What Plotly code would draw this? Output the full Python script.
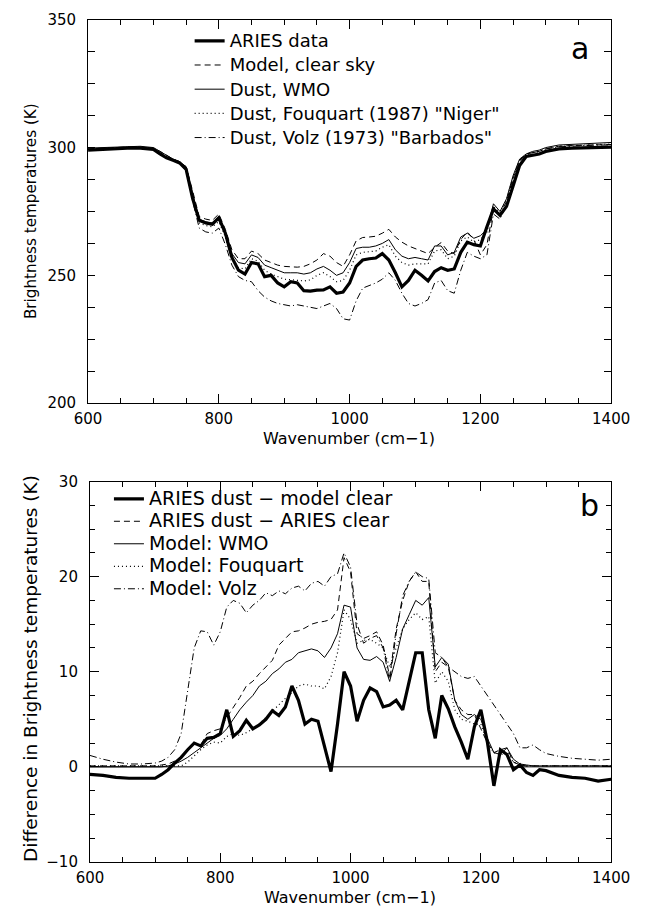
import plotly.graph_objects as go

# ---------------- data ----------------
wavenumber = [600, 620, 640, 660, 680] + list(range(700, 1301, 10)) + [1320, 1340, 1360, 1380, 1400]

# Panel a: brightness temperatures (K)
aries_data = [299.0, 299.3, 299.6, 299.8, 299.8,
              299.3, 297.5, 296.0, 295.0, 294.0, 291.5, 280.0, 271.5, 270.5, 270.0,
              272.5, 266.5, 257.0, 252.0, 250.5, 255.0, 254.5, 249.5, 250.0, 247.0,
              245.5, 247.5, 247.0, 244.0, 243.8, 244.2, 244.3, 245.5, 243.0, 243.5,
              247.0, 253.5, 256.0, 256.5, 256.8, 258.5, 256.0, 251.0, 245.5, 248.0,
              252.0, 250.0, 247.8, 251.5, 253.0, 252.0, 252.5, 259.0, 263.0, 262.0,
              261.5, 269.0, 276.0, 273.5, 277.0, 285.0, 293.0, 296.5, 297.0, 297.5,
              298.5,
              299.5, 299.8, 300.0, 300.0, 300.2]
model_clear = [299.5, 299.8, 300.0, 300.2, 300.2,
               299.8, 298.5, 297.0, 295.5, 294.5, 292.5, 283.0, 273.0, 272.0, 271.5,
               274.0, 268.0, 260.0, 256.5, 256.5, 259.5, 258.5, 256.0, 255.0, 254.0,
               253.5, 253.3, 253.2, 253.5, 254.5, 256.0, 258.5, 257.5, 255.0, 253.5,
               258.0, 263.5, 264.8, 265.0, 265.3, 266.5, 268.0, 265.0, 263.0, 261.5,
               260.5, 259.5, 258.5, 261.0, 262.8, 259.5, 258.5, 264.0, 267.0, 264.0,
               258.0, 262.0, 276.0, 274.0, 279.0, 288.0, 295.0, 297.5, 298.0, 298.5,
               299.5,
               300.5, 300.8, 301.0, 301.0, 301.2]
dust_wmo = [299.8, 300.0, 300.3, 300.5, 300.5,
            300.0, 298.5, 297.0, 295.5, 294.5, 292.5, 282.0, 272.0, 271.0, 270.5,
            273.0, 267.0, 258.5, 255.0, 254.5, 258.0, 257.0, 254.0, 253.0, 252.0,
            251.0, 251.0, 251.0, 250.5, 251.0, 252.5, 253.5, 252.0, 250.0, 251.0,
            255.0, 260.5, 261.0, 261.0, 261.5, 262.5, 264.0, 260.0, 257.5, 256.5,
            257.0, 256.5, 256.0, 261.5, 261.5, 258.0, 259.0, 265.0, 266.5, 264.5,
            265.5, 268.0, 278.0, 275.0, 280.0, 289.0, 295.5, 297.5, 298.5, 299.0,
            300.0,
            301.0, 301.3, 301.5, 301.8, 302.0]
dust_fouquart = [299.3, 299.6, 299.9, 300.1, 300.1,
                 299.6, 297.5, 296.2, 295.2, 294.2, 291.8, 280.5, 270.5, 269.5, 269.0,
                 271.0, 265.0, 256.5, 253.0, 252.5, 256.5, 255.5, 252.0, 250.5, 249.5,
                 248.5, 248.3, 248.0, 247.8, 248.2, 250.0, 251.0, 249.5, 247.5, 248.0,
                 252.0, 258.0, 259.0, 259.2, 259.5, 261.0, 262.0, 257.5, 255.0, 254.0,
                 254.5, 254.5, 254.5, 259.5, 260.0, 256.5, 257.5, 263.5, 265.0, 263.0,
                 264.0, 267.0, 277.0, 274.5, 279.5, 288.5, 295.0, 297.0, 298.0, 298.5,
                 299.5,
                 300.5, 300.8, 301.0, 301.2, 301.4]
dust_volz = [299.3, 299.6, 299.9, 300.1, 300.1,
             299.6, 298.0, 296.5, 295.0, 293.8, 291.0, 279.0, 268.5, 267.0, 266.5,
             268.5, 262.0, 254.0, 249.5, 248.0, 247.5, 244.0, 241.5, 240.0, 239.0,
             238.5, 238.0, 238.5, 238.0, 237.5, 237.0, 238.0, 239.0, 237.0, 233.0,
             232.5, 240.0, 245.0, 246.0, 247.0, 248.5, 251.0, 248.0, 243.0, 239.0,
             238.0, 239.0, 240.5, 247.0, 248.0, 244.0, 243.0, 252.0, 259.0, 257.5,
             256.5, 258.0, 274.0, 272.0, 277.5, 287.0, 294.5, 297.0, 298.0, 298.5,
             299.5,
             300.3, 300.6, 300.8, 301.0, 301.0]

# Panel b: differences in brightness temperatures (K)
diff_aries_model = [-0.8, -0.9, -1.1, -1.2, -1.2,
                    -1.2, -0.8, -0.3, 0.4, 1.0, 1.8, 2.5, 2.2, 3.0, 3.1,
                    3.5, 6.0, 3.2, 3.8, 4.9, 4.0, 4.4, 5.0, 5.9, 5.4,
                    6.3, 8.5, 7.0, 4.5, 5.0, 4.8, 2.0, -0.5, 4.5, 10.0,
                    8.5, 4.8, 7.0, 8.3, 7.9, 6.3, 6.5, 7.0, 6.0, 9.0,
                    12.0, 12.0, 6.0, 3.0, 7.5, 6.1, 4.2, 2.6, 0.8, 4.2,
                    6.0, 2.6, -2.0, 1.8, 1.3, -0.3, 0.2, -0.6, -0.9, -0.3,
                    -0.4,
                    -0.9, -1.1, -1.2, -1.5, -1.3]
diff_aries_aries = [0.1, 0.1, 0.1, 0.1, 0.1,
                    0.1, 0.2, 0.3, 0.6, 1.0, 1.8, 2.5, 2.3, 3.5, 3.8,
                    4.0, 5.2, 6.2, 7.3, 8.5, 9.0, 9.8, 10.5, 11.2, 12.8,
                    13.5, 14.2, 14.3, 14.6, 15.0, 15.2, 15.3, 15.5, 16.5, 22.0,
                    20.5, 14.0, 13.5, 13.8, 14.2, 12.8, 9.5, 14.5, 17.5, 19.5,
                    20.5, 19.5, 19.5, 10.0, 11.0, 10.5, 7.0, 6.0, 5.5, 5.5,
                    4.0, 2.5, 1.5, 1.8, 2.0, 0.5, 0.2, 0.1, 0.1, 0.1,
                    0.1,
                    0.1, 0.1, 0.1, 0.1, 0.1]
model_wmo = [0.0, 0.0, 0.0, 0.0, 0.0,
             0.0, 0.0, 0.1, 0.3, 0.6, 1.0, 1.5, 2.0, 2.5, 3.0,
             3.3, 4.0, 5.0, 6.0, 6.8, 7.5, 8.5, 9.0, 9.8, 10.3,
             11.0, 11.3, 12.0, 12.2, 12.4, 12.2, 11.5, 12.5, 14.0, 17.0,
             16.8, 12.5, 11.3, 11.2, 11.6, 11.0, 9.0, 11.5, 14.5, 16.0,
             17.5, 17.0, 17.8, 10.5, 11.5, 10.8, 7.0, 5.5, 5.0, 5.5,
             5.0, 3.0, 1.5, 1.3, 2.0, 0.8, 0.3, 0.2, 0.1, 0.1,
             0.1,
             0.1, 0.1, 0.1, 0.1, 0.1]
model_fouquart = [0.1, 0.1, 0.1, 0.1, 0.1,
                  0.1, 0.1, 0.1, 0.1, 0.1, 0.5, 1.2, 1.8, 2.3, 2.6,
                  2.5, 3.2, 3.5, 3.3, 3.6, 4.0, 4.5, 5.2, 5.8, 6.5,
                  7.2, 7.8, 8.5, 8.7, 8.5, 8.5, 8.2, 9.5, 12.0, 16.5,
                  15.5, 13.0, 13.3, 13.4, 13.0, 12.5, 10.5, 12.5, 14.5, 15.5,
                  16.2, 15.5, 15.8, 8.8, 10.0, 9.0, 6.0, 5.0, 4.8, 4.5,
                  4.5, 2.5, 1.5, 1.2, 1.6, 0.5, 0.2, 0.1, 0.1, 0.1,
                  0.1,
                  0.1, 0.1, 0.1, 0.1, 0.1]
model_volz = [1.2, 0.8, 0.5, 0.3, 0.3,
              0.4, 0.6, 1.0, 1.8, 3.5, 8.0, 12.5, 14.3, 14.2, 12.8,
              14.2, 16.8, 17.5, 17.2, 16.2, 17.0, 17.5, 18.3, 18.0, 18.5,
              18.2, 18.8, 19.0, 18.5, 19.3, 19.5, 19.0, 20.0, 20.3, 22.5,
              21.0, 15.0, 13.0, 13.5, 13.8, 12.5, 9.0, 14.0, 18.0, 19.5,
              20.5, 20.0, 19.8, 12.0, 11.5, 10.5, 10.0, 9.5, 9.3, 9.5,
              8.5, 7.5, 6.5, 5.5, 4.5, 3.5, 2.0, 2.0, 2.3, 1.8,
              1.4,
              1.1, 0.9, 0.8, 0.7, 0.8]

x_tickvals = [600, 800, 1000, 1200, 1400]
ya_tickvals = [200, 250, 300, 350]
yb_tickvals = [-10, 0, 10, 20, 30]

labels_a = ["ARIES data", "Model, clear sky", "Dust, WMO",
            'Dust, Fouquart (1987) "Niger"', 'Dust, Volz (1973) "Barbados"']
labels_b = ["ARIES dust \u2212 model clear", "ARIES dust \u2212 ARIES clear",
            "Model: WMO", "Model: Fouquart", "Model: Volz"]

# ---------------- styles ----------------
W, H = 652, 918
FONT = "DejaVu Sans"
styles = [dict(width=3.2, dash="solid"),
          dict(width=1.0, dash="6px,4px"),
          dict(width=1.0, dash="solid"),
          dict(width=1.2, dash="1px,3px"),
          dict(width=1.0, dash="7px,3px,1px,3px")]


def big(text, size):
    return '<span style="font-size:%gpx">%s</span>' % (size, text)


fig = go.Figure()
series_a = [aries_data, model_clear, dust_wmo, dust_fouquart, dust_volz]
series_b = [diff_aries_model, diff_aries_aries, model_wmo, model_fouquart, model_volz]
for s, name, st in zip(series_a, labels_a, styles):
    fig.add_trace(go.Scatter(x=wavenumber, y=s, name=big(name, 18), mode="lines",
                             line=dict(color="black", **st),
                             xaxis="x", yaxis="y", legend="legend"))
for s, name, st in zip(series_b, labels_b, styles):
    fig.add_trace(go.Scatter(x=wavenumber, y=s, name=big(name, 19), mode="lines",
                             line=dict(color="black", **st),
                             xaxis="x2", yaxis="y2", legend="legend2"))


def px_x(v):
    return v / W


def px_y(v):
    return 1 - v / H


axis_common = dict(showline=True, linecolor="black", linewidth=1, mirror="allticks",
                   ticks="inside", tickcolor="black", showgrid=False, zeroline=False,
                   tickfont=dict(family=FONT, size=15, color="black"))

fig.update_layout(
    width=W, height=H,
    margin=dict(l=0, r=0, t=0, b=0),
    paper_bgcolor="white", plot_bgcolor="white",
    font=dict(family=FONT, color="black"),
    xaxis=dict(domain=[px_x(78), px_x(629)], anchor="y", range=[600, 1400],
               tickvals=x_tickvals, ticklen=9, ticklabelstandoff=2,
               minor=dict(dtick=50, tick0=600, ticklen=5, ticks="inside", tickcolor="black"),
               **axis_common),
    yaxis=dict(domain=[px_y(402), px_y(11)], anchor="x", range=[200, 350],
               tickvals=ya_tickvals, ticklen=7, ticklabelstandoff=8,
               minor=dict(dtick=12.5, tick0=200, ticklen=7, ticks="inside", tickcolor="black"),
               **axis_common),
    xaxis2=dict(domain=[px_x(80), px_x(629)], anchor="y2", range=[600, 1400],
                tickvals=x_tickvals, ticklen=9, ticklabelstandoff=2,
                minor=dict(dtick=50, tick0=600, ticklen=5, ticks="inside", tickcolor="black"),
                **axis_common),
    yaxis2=dict(domain=[px_y(870), px_y(482)], anchor="x2", range=[-10, 30],
                tickvals=yb_tickvals, ticklen=9, ticklabelstandoff=8,
                minor=dict(dtick=2.5, tick0=-10, ticklen=5, ticks="inside", tickcolor="black"),
                **axis_common),
    legend=dict(x=px_x(185), y=px_y(15), xanchor="left", yanchor="top",
                bgcolor="rgba(0,0,0,0)", itemwidth=30, traceorder="normal",
                font=dict(family=FONT, size=16.3, color="black")),
    legend2=dict(x=px_x(100), y=px_y(483), xanchor="left", yanchor="top",
                 bgcolor="rgba(0,0,0,0)", itemwidth=30, traceorder="normal",
                 font=dict(family=FONT, size=15, color="black")),
    showlegend=True,
)

# zero reference line in panel b
fig.add_shape(type="line", xref="x2 domain", yref="y2", x0=0, x1=1, y0=0, y1=0,
              line=dict(color="black", width=1))

# axis titles and panel letters
ann = [
    dict(text="Wavenumber (cm\u22121)", x=px_x(353), y=px_y(438), size=16, angle=0),
    dict(text="Wavenumber (cm\u22121)", x=px_x(354), y=px_y(906), size=16, angle=0),
    dict(text="Brightness temperatures (K)", x=px_x(18), y=px_y(206), size=15.2, angle=-90),
    dict(text="Difference in Brightness temperatures (K)", x=px_x(18), y=px_y(673), size=18.5, angle=-90),
    dict(text="a", x=px_x(596), y=px_y(40), size=30, angle=0),
    dict(text="b", x=px_x(606), y=px_y(506), size=30, angle=0),
]
for a in ann:
    fig.add_annotation(text=a["text"], x=a["x"], y=a["y"], xref="paper", yref="paper",
                       showarrow=False, textangle=a["angle"], xanchor="center", yanchor="middle",
                       font=dict(family=FONT, size=a["size"], color="black"))

fig.write_html("out.html")
